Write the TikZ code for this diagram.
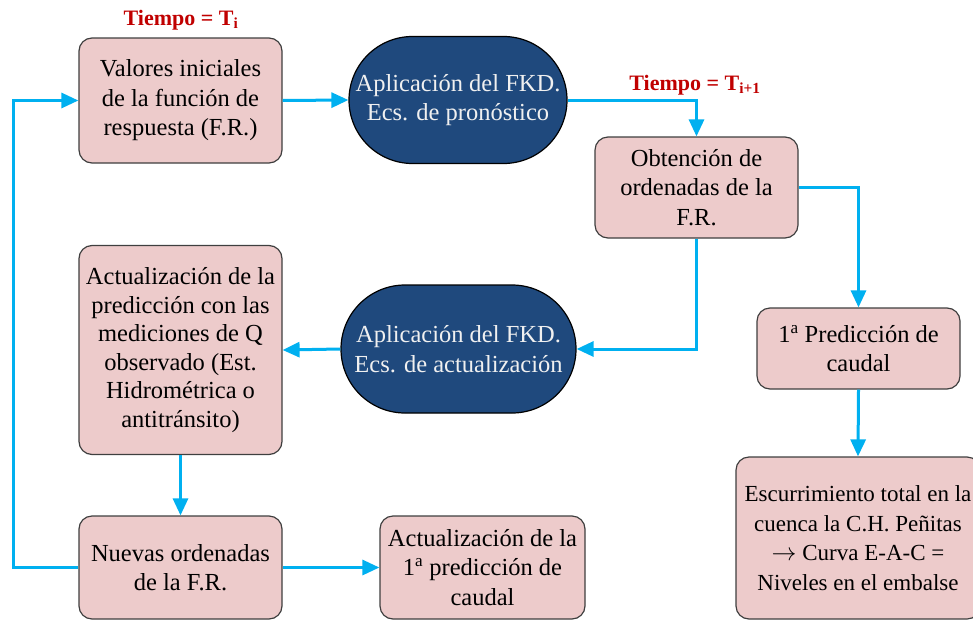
\documentclass[tikz,border=0pt]{standalone}
\usepackage{fontspec}
\setmainfont{Liberation Serif}
\usepackage{tikz}
\usetikzlibrary{positioning,arrows.meta,shapes.misc,calc}

\definecolor{boxpink}{HTML}{EDCBCB}
\definecolor{boxline}{HTML}{3F3F3F}
\definecolor{fkdblue}{HTML}{1F497D}
\definecolor{flowblue}{HTML}{00B0F0}
\definecolor{timered}{HTML}{C00000}

\begin{document}
\begin{tikzpicture}[
  x=1pt,y=-1pt,
  stepbox/.style={rectangle,draw=boxline,line width=1.2pt,rounded corners=13pt,fill=boxpink,inner sep=2pt,align=center,minimum width=203pt,font=\fontsize{24.5}{29.5}\selectfont},
  fkdnode/.style={rounded rectangle,draw=black,line width=1.2pt,fill=fkdblue,text=white!94!black,inner sep=1pt,align=center,minimum height=127pt,font=\fontsize{24.5}{29.5}\selectfont},
  flow/.style={-{Triangle[length=17pt,width=15pt]},line width=3pt,flowblue},
  timelabel/.style={font=\fontsize{22}{26}\selectfont\bfseries,text=timered},
]
\useasboundingbox (0,0) rectangle (973,621);

% ==== TOP ROW ====
\node[timelabel] (ti) at (181,20) {Tiempo = T\textsubscript{i}};
\node[stepbox,minimum height=125pt] (ini) at (180.5,100.5) {Valores iniciales\\de la función de\\respuesta (F.R.)};
\node[fkdnode,minimum width=220pt] (prono) at (458,100) {Aplicación del FKD.\\Ecs. de pronóstico};

\node[timelabel] (tii) at (695,85) {Tiempo = T\textsubscript{i+1}};
\node[stepbox,minimum height=101pt] (orden) at (696.5,187.5) {Obtención de\\ordenadas de la\\F.R.};

% ==== RIGHT COLUMN ====
\node[stepbox,minimum height=81pt] (pred) at (858.5,348.5) {1\textsuperscript{a} Predicción de\\caudal};
\node[stepbox,minimum width=244pt,minimum height=162pt,font=\fontsize{23}{29.5}\selectfont] (escu) at (858,538) {Escurrimiento total en la\\cuenca la C.H. Peñitas\\$\rightarrow$ Curva E-A-C =\\Niveles en el embalse};

% ==== MIDDLE / BOTTOM ====
\node[fkdnode,minimum width=237pt,minimum height=128pt] (actu) at (458.5,349) {Aplicación del FKD.\\Ecs. de actualización};
\node[stepbox,minimum height=209pt,font=\fontsize{24.5}{28.5}\selectfont] (medi) at (180.5,350) {Actualización de la\\predicción con las\\mediciones de Q\\observado (Est.\\Hidrométrica o\\antitránsito)};
\node[stepbox,minimum height=103pt] (nuevas) at (180.5,567.5) {Nuevas ordenadas\\de la F.R.};
\node[stepbox,minimum width=205pt,minimum height=103pt] (actpred) at (482.5,567.5) {Actualización de la\\1\textsuperscript{a} predicción de\\caudal};

\coordinate (loopx) at (13,0);

% Flow arrows
\draw[flow] (ini.east) -- (prono.west);
\draw[flow] (prono.east) -| (orden.north);
\draw[flow] (orden.east) -| (pred.north);
\draw[flow] (pred.south) -- (escu.north);
\draw[flow] (orden.south) |- (actu.east);
\draw[flow] (actu.west) -- (medi.east);
\draw[flow] (medi.south) -- (nuevas.north);
\draw[flow] (nuevas.east) -- (actpred.west);
\draw[flow] (nuevas.west) -- (nuevas.west -| loopx) |- (ini.west);

\end{tikzpicture}
\end{document}
